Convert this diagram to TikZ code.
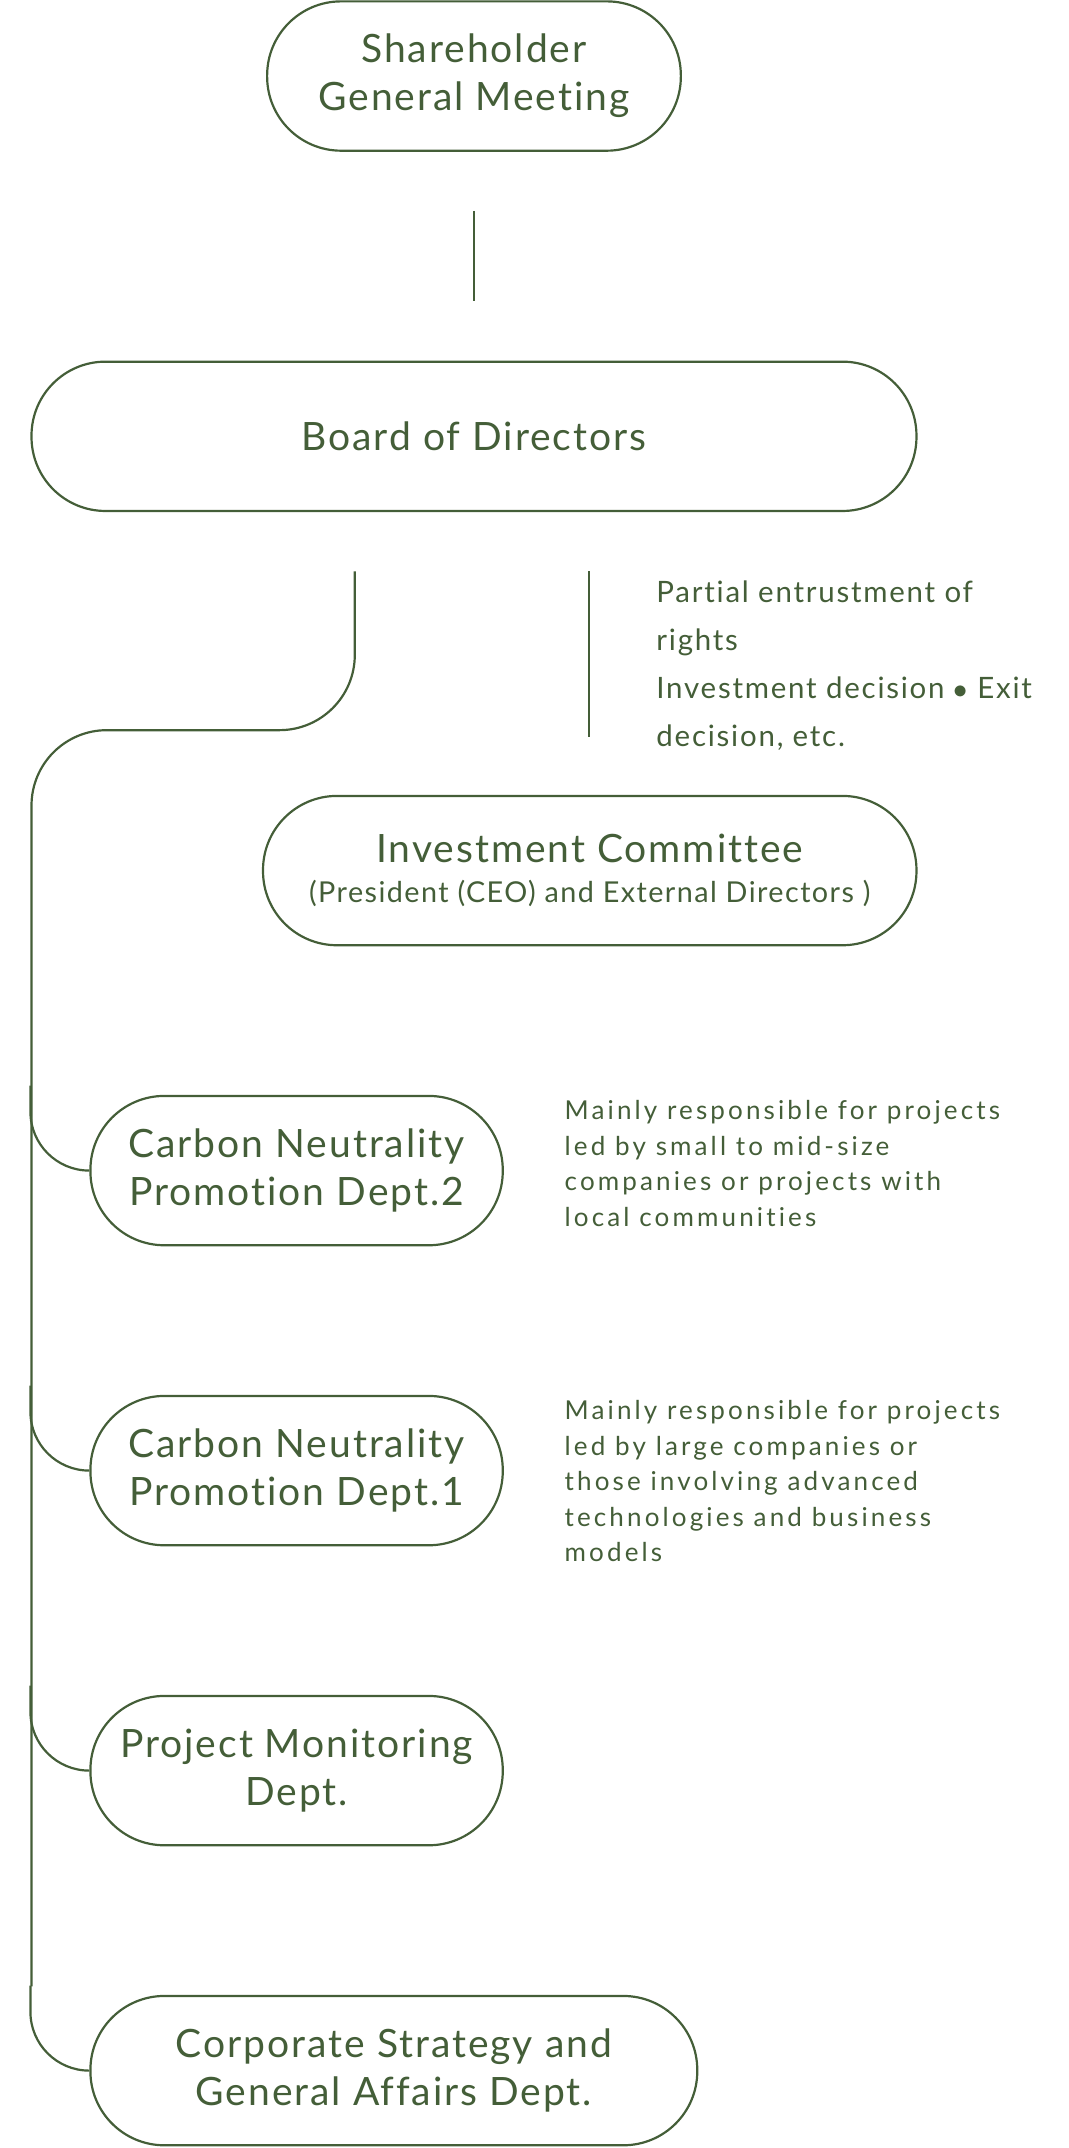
\documentclass[tikz,border=0pt]{standalone}
\usepackage{fontspec}
\setmainfont{Lato}[Ligatures={NoCommon,NoRare}]
\usetikzlibrary{positioning}
\definecolor{colorline}{RGB}{68,94,56}

\begin{document}
\begin{tikzpicture}[
    x=1pt, y=-1pt,
    font={\fontsize{28.5}{35}\selectfont\addfontfeatures{LetterSpace=5}},
    text=colorline,
    unit/.style={draw=colorline,line width=1.6pt,rounded corners=54pt,minimum height=109pt,inner sep=0pt,align=center},
    link/.style={draw=colorline,line width=1.6pt},
    note/.style={anchor=north west,align=left,inner sep=0pt,font={\fontsize{21.5}{35}\selectfont\addfontfeatures{LetterSpace=6}}},
    remark/.style={anchor=north west,align=left,inner sep=0pt,font={\fontsize{19}{26}\selectfont\addfontfeatures{LetterSpace=12}}},
]
    \useasboundingbox (0,0) rectangle (780,1568);

    % Units
    \node[unit, minimum width=302pt] (sgm) at (346,55.5) {Shareholder\\General Meeting};
    \node[unit, minimum width=646pt] (board) at (346,318.5) {Board of Directors};
    \node[unit, minimum width=477pt] (invest) at (430.5,635.5) {Investment Committee\\[-6pt]{\fontsize{21}{26}\selectfont (President (CEO) and External Directors )}};
    \node[unit, minimum width=301pt] (cnp2) at (216.5,854.5) {Carbon Neutrality\\Promotion Dept.2};
    \node[unit, minimum width=301pt] (cnp1) at (216.5,1073.5) {Carbon Neutrality\\Promotion Dept.1};
    \node[unit, minimum width=301pt] (pmd) at (216.5,1292.5) {Project Monitoring\\Dept.};
    \node[unit, minimum width=443pt] (csd) at (287.5,1511.5) {Corporate Strategy and\\General Affairs Dept.};

    % Notes
    \node[note] (rights) at (479,424) {Partial entrustment of\\rights\\Investment decision $\bullet$ Exit\\decision, etc.};
    \node[remark] (note2) at (412,803) {Mainly responsible for projects\\led by small to mid-size\\companies or projects with\\local communities};
    \node[remark] (note1) at (412,1022) {Mainly responsible for projects\\led by large companies or\\those involving advanced\\technologies and business\\models};

    % Connectors
    \coordinate (s1) at (346,154);
    \coordinate (s2) at (346,220);
    \coordinate (b1) at (259,417);
    \coordinate (b2) at (430,417);
    \coordinate (b3) at (430,538);
    \draw[link] (s1) -- (s2);
    \draw[link] (b2) -- (b3);
    \draw[link,rounded corners=55pt] (b1) -- (259,533) -- (23,533) -- (23,1450);
    \foreach \dept in {cnp2,cnp1,pmd,csd}
        \draw[link,rounded corners=43pt] (\dept.west) ++(-43,-62) -- ++(0,62) -- (\dept.west);

\end{tikzpicture}
\end{document}
